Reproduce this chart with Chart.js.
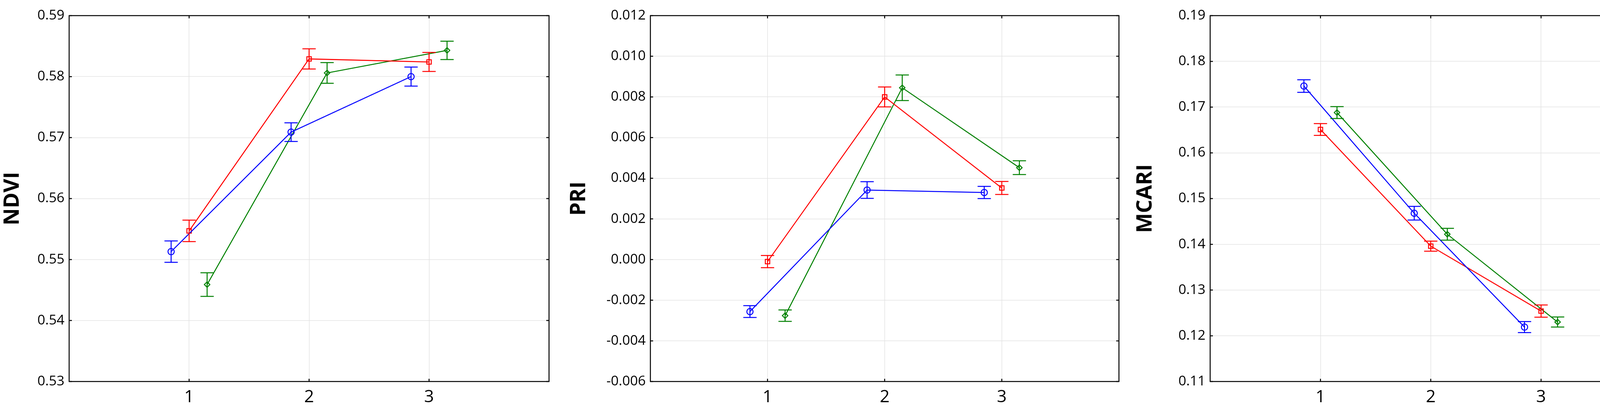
<!DOCTYPE html>
<html>
<head>
<meta charset="utf-8">
<script src="https://cdn.jsdelivr.net/npm/chart.js@4"></script>
<style>
  body { margin: 0; background: #fff; width: 4403px; height: 1073px; position: relative; overflow: hidden; }
  canvas { position: absolute; top: 0; }
</style>
</head>
<body>
<canvas id="c1" width="1416" height="1073" style="left:0px;width:1416px;height:1073px"></canvas>
<canvas id="c2" width="1425" height="1073" style="left:1450px;width:1425px;height:1073px"></canvas>
<canvas id="c3" width="1338" height="1073" style="left:2900px;width:1338px;height:1073px"></canvas>
<canvas id="leg" width="160" height="1073" style="left:4243px;width:160px;height:1073px"></canvas>
<script>
const groups = [1, 2, 3];
const seriesNames = ["B0", "B1", "B2"];

// NDVI
const ndviB0 = [0.5513, 0.5709, 0.5800];
const ndviB1 = [0.5547, 0.5829, 0.5824];
const ndviB2 = [0.5459, 0.5806, 0.5843];
const ndviErrB0 = [0.00176, 0.00153, 0.00156];
const ndviErrB1 = [0.00176, 0.00165, 0.00156];
const ndviErrB2 = [0.00194, 0.00170, 0.00150];

// PRI
const priB0 = [-0.00256, 0.00342, 0.00330];
const priB1 = [-0.00010, 0.00800, 0.00352];
const priB2 = [-0.00276, 0.00845, 0.00452];
const priErrB0 = [0.00029, 0.00041, 0.00030];
const priErrB1 = [0.00030, 0.00049, 0.00032];
const priErrB2 = [0.00028, 0.00063, 0.00034];

// MCARI
const mcariB0 = [0.1746, 0.1468, 0.1219];
const mcariB1 = [0.1651, 0.1396, 0.1254];
const mcariB2 = [0.1688, 0.1422, 0.1230];
const mcariErrB0 = [0.00137, 0.00150, 0.00120];
const mcariErrB1 = [0.00130, 0.00110, 0.00134];
const mcariErrB2 = [0.00130, 0.00130, 0.00110];

const colors = ["#0000ff", "#ff0000", "#008000"];
const styles = ["circle", "rect", "rectRot"];
const radii = [8, 8, 7];
const dodge = [-0.15, 0, 0.15];
const tickFont = "'Liberation Sans Narrow', 'Open Sans', sans-serif";

// error bars
const errorBars = {
    id: "errorBars",
    afterDatasetsDraw(chart) {
        const ctx = chart.ctx;
        const y = chart.scales.y;
        chart.data.datasets.forEach((ds, i) => {
            const meta = chart.getDatasetMeta(i);
            ctx.save();
            ctx.strokeStyle = ds.borderColor;
            ctx.lineWidth = 2.5;
            meta.data.forEach((pt, j) => {
                const v = ds.data[j].y, e = ds.err[j];
                const top = y.getPixelForValue(v + e);
                const bot = y.getPixelForValue(v - e);
                ctx.beginPath();
                ctx.moveTo(pt.x, top); ctx.lineTo(pt.x, bot);
                ctx.moveTo(pt.x - 17, top); ctx.lineTo(pt.x + 17, top);
                ctx.moveTo(pt.x - 17, bot); ctx.lineTo(pt.x + 17, bot);
                ctx.stroke();
            });
            ctx.restore();
        });
    },
};

// frame with inward ticks
const frame = {
    id: "frame",
    afterDraw(chart) {
        const { ctx, chartArea: a, scales } = chart;
        ctx.save();
        ctx.strokeStyle = "#000";
        ctx.lineWidth = 2.5;
        ctx.strokeRect(a.left, a.top, a.right - a.left, a.bottom - a.top);
        ctx.beginPath();
        scales.y.ticks.forEach((t) => {
            const p = scales.y.getPixelForValue(t.value);
            ctx.moveTo(a.left, p); ctx.lineTo(a.left + 7, p);
            ctx.moveTo(a.right, p); ctx.lineTo(a.right - 7, p);
        });
        groups.forEach((g) => {
            const p = scales.x.getPixelForValue(g);
            ctx.moveTo(p, a.bottom); ctx.lineTo(p, a.bottom - 7);
            ctx.moveTo(p, a.top); ctx.lineTo(p, a.top + 7);
        });
        ctx.stroke();
        ctx.restore();
    },
};

function makePanel(id, title, series, errs, yMin, yMax, step, digits, axisW) {
    const datasets = series.map((vals, i) => ({
        label: seriesNames[i],
        data: groups.map((g, j) => ({ x: g + dodge[i], y: vals[j] })),
        err: errs[i],
        borderColor: colors[i],
        backgroundColor: "transparent",
        borderWidth: 2.5,
        pointStyle: styles[i],
        pointRadius: radii[i],
        pointBorderWidth: 2.5,
        pointBorderColor: colors[i],
        pointBackgroundColor: "transparent",
    }));
    new Chart(document.getElementById(id), {
        type: "line",
        data: { datasets },
        options: {
            responsive: false,
            devicePixelRatio: 1,
            animation: false,
            layout: { padding: { top: 40, right: 2 } },
            plugins: { legend: { display: false }, tooltip: { enabled: false } },
            scales: {
                x: {
                    type: "linear",
                    min: 0,
                    max: 4,
                    afterFit: (s) => { s.height = 96; },
                    afterBuildTicks: (s) => { s.ticks = groups.map((g) => ({ value: g })); },
                    ticks: { color: "#000", font: { family: tickFont, size: 44 }, padding: 14 },
                    grid: { color: "#e3e3e3", lineWidth: 1.5, drawTicks: false },
                    border: { display: false },
                },
                y: {
                    min: yMin,
                    max: yMax,
                    afterFit: (s) => { s.width = axisW; },
                    ticks: {
                        stepSize: step,
                        color: "#000",
                        font: { family: tickFont, size: 35 },
                        padding: 12,
                        callback: (v) => v.toFixed(digits),
                    },
                    grid: { color: "#e3e3e3", lineWidth: 1.5, drawTicks: false },
                    border: { display: false },
                    title: {
                        display: true,
                        text: title,
                        color: "#000",
                        font: { family: "'Open Sans', sans-serif", size: 54, weight: "bold" },
                        padding: { top: 0, bottom: 26 },
                    },
                },
            },
        },
        plugins: [errorBars, frame],
    });
}

makePanel("c1", "NDVI", [ndviB0, ndviB1, ndviB2], [ndviErrB0, ndviErrB1, ndviErrB2],
    0.53, 0.59, 0.01, 2, 177);
makePanel("c2", "PRI", [priB0, priB1, priB2], [priErrB0, priErrB1, priErrB2],
    -0.006, 0.012, 0.002, 3, 215);
makePanel("c3", "MCARI", [mcariB0, mcariB1, mcariB2], [mcariErrB0, mcariErrB1, mcariErrB2],
    0.11, 0.19, 0.01, 2, 198);

// legend to the right of the last panel
const lctx = document.getElementById("leg").getContext("2d");
const x0 = 17, ys = [888, 955, 1022];
seriesNames.forEach((name, i) => {
    const yy = ys[i];
    lctx.strokeStyle = colors[i];
    lctx.lineWidth = 2.5;
    lctx.beginPath();
    lctx.moveTo(x0, yy - 15); lctx.lineTo(x0 + 51, yy - 15);
    lctx.moveTo(x0, yy); lctx.lineTo(x0 + 51, yy);
    lctx.moveTo(x0, yy + 15); lctx.lineTo(x0 + 51, yy + 15);
    lctx.moveTo(x0 + 25, yy - 15); lctx.lineTo(x0 + 25, yy + 15);
    lctx.stroke();
    Chart.helpers.drawPoint(lctx, { pointStyle: styles[i], radius: 6, borderWidth: 2 }, x0 + 25, yy);
    lctx.fillStyle = "#000";
    lctx.font = "50px 'Open Sans', sans-serif";
    lctx.textBaseline = "middle";
    lctx.fillText(name, x0 + 66, yy + 2);
});
</script>
</body>
</html>
